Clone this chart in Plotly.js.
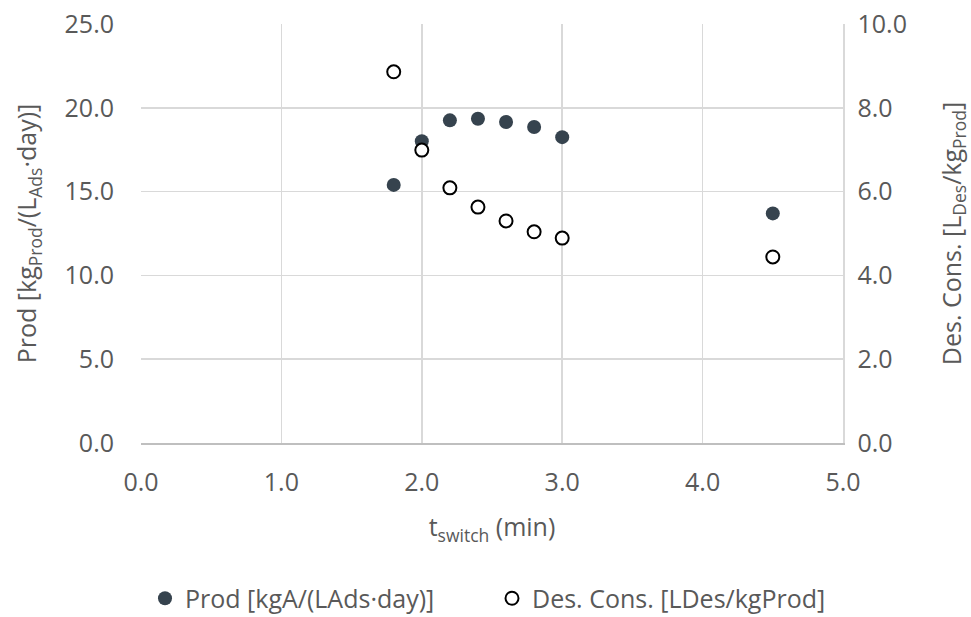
<!DOCTYPE html>
<html>
<head>
<meta charset="utf-8">
<script src="https://cdn.plot.ly/plotly-3.0.1.min.js"></script>
<style>html,body{margin:0;padding:0;background:#fff;}#chart{width:971px;height:617px;}</style>
</head>
<body>
<div id="chart"></div>
<script>
const tSwitch = [1.8, 2.0, 2.2, 2.4, 2.6, 2.8, 3.0, 4.5];
const prodValues = [15.4, 18.0, 19.25, 19.35, 19.15, 18.85, 18.25, 13.7];
const desConsValues = [8.86, 6.99, 6.09, 5.63, 5.30, 5.04, 4.89, 4.44];
const prodName = "Prod [kgA/(LAds·day)]";
const desName = "Des. Cons. [LDes/kgProd]";
const xTicks = [0, 1, 2, 3, 4, 5];
const yLeftTicks = [0, 5, 10, 15, 20, 25];
const yRightTicks = [0, 2, 4, 6, 8, 10];

const fontFam = '"Open Sans", "Noto Sans", sans-serif';
const grey = '#595959';
const fs = 25;

const traces = [
  {
    x: tSwitch, y: prodValues, name: prodName, type: 'scatter', mode: 'markers',
    marker: {size: 14, color: '#36434e', line: {width: 0}},
    yaxis: 'y'
  },
  {
    x: tSwitch, y: desConsValues, name: desName, type: 'scatter', mode: 'markers',
    marker: {size: 13, color: '#ffffff', line: {width: 2, color: '#000000'}},
    yaxis: 'y2'
  }
];

const layout = {
  width: 971, height: 617,
  margin: {l: 141, r: 128, t: 24, b: 174},
  paper_bgcolor: '#fff', plot_bgcolor: '#fff',
  font: {family: fontFam, color: grey, size: fs},
  showlegend: true,
  legend: {orientation: 'h', x: 0.5, xanchor: 'center', yref: 'container', y: 0.03, yanchor: 'middle',
           font: {size: 25, color: grey}, itemwidth: 30, entrywidth: 302, tracegroupgap: 0},
  xaxis: {
    range: [0, 5], tickvals: xTicks, ticktext: xTicks.map(v => v.toFixed(1)),
    showgrid: true, gridcolor: '#d9d9d9', gridwidth: 1.5,
    zeroline: false, showline: true, linecolor: '#bfbfbf', linewidth: 1.5,
    ticks: '', ticklabelstandoff: 16, tickfont: {size: fs, color: grey},
    title: {text: 't<sub>switch</sub> (min)', font: {size: fs, color: grey}, standoff: 22},
    automargin: false, fixedrange: true
  },
  yaxis: {
    range: [0, 25], tickvals: yLeftTicks, ticktext: yLeftTicks.map(v => v.toFixed(1)),
    showgrid: true, gridcolor: '#d9d9d9', gridwidth: 1.5, zeroline: false,
    showline: false, ticks: '', ticklabelstandoff: 26, tickfont: {size: fs, color: grey},
    title: {text: 'Prod [kg<sub>Prod</sub>/(L<sub>Ads</sub>·day)]', font: {size: fs, color: grey}, standoff: 20},
    automargin: false, fixedrange: true
  },
  yaxis2: {
    range: [0, 10], tickvals: yRightTicks, ticktext: yRightTicks.map(v => v.toFixed(1)),
    overlaying: 'y', side: 'right', showgrid: false, zeroline: false,
    showline: true, linecolor: '#d9d9d9', linewidth: 1.5,
    ticks: '', ticklabelstandoff: 8, tickfont: {size: fs, color: grey},
    title: {text: 'Des. Cons. [L<sub>Des</sub>/kg<sub>Prod</sub>]', font: {size: fs, color: grey}, standoff: 40},
    automargin: false, fixedrange: true
  }
};

Plotly.newPlot('chart', traces, layout, {displayModeBar: false, staticPlot: true});
</script>
</body>
</html>
